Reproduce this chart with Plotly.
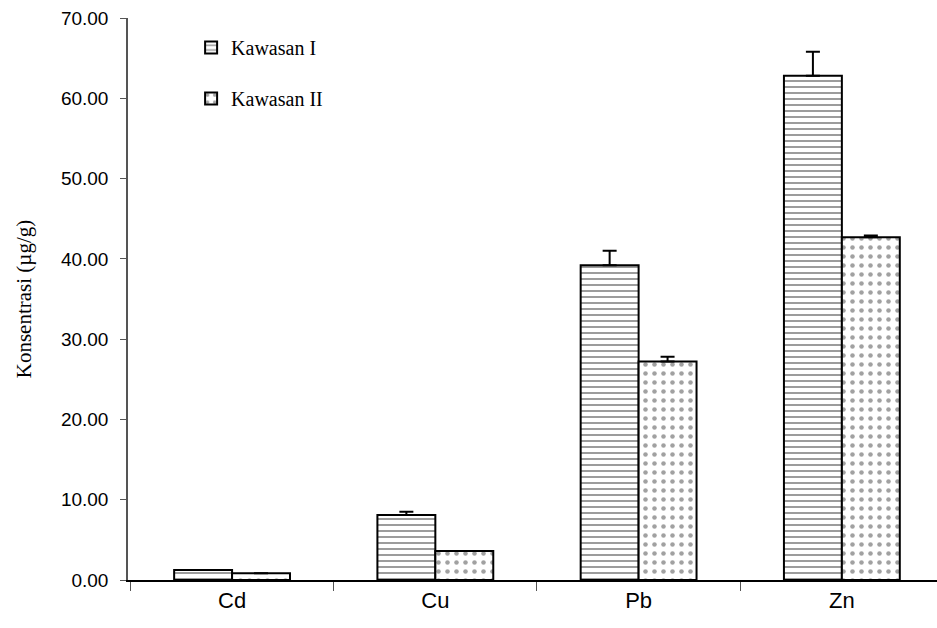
import plotly.graph_objects as go

categories = ["Cd", "Cu", "Pb", "Zn"]
kawasan1 = [1.25, 8.1, 39.2, 62.8]
kawasan1_err = [0.0, 0.4, 1.8, 3.0]
kawasan2 = [0.85, 3.6, 27.2, 42.7]
kawasan2_err = [0.0, 0.0, 0.6, 0.2]
y_ticks = [0, 10, 20, 30, 40, 50, 60, 70]

fig = go.Figure()
fig.add_trace(go.Bar(
    x=categories, y=kawasan1, name="Kawasan I", legendgroup="a",
    marker=dict(color="white", line=dict(color="black", width=2),
                pattern=dict(shape="-", fgcolor="#222222", bgcolor="white",
                             size=6, solidity=0.3, fillmode="overlay")),
    error_y=dict(type="data", symmetric=False, array=kawasan1_err,
                 arrayminus=[0, 0, 0, 0], color="black", thickness=2, width=7),
))
fig.add_trace(go.Bar(
    x=categories, y=kawasan2, name="Kawasan II", legendgroup="b",
    marker=dict(color="white", line=dict(color="black", width=2),
                pattern=dict(shape=".", fgcolor="#444444", bgcolor="white",
                             size=9, solidity=0.2, fillmode="overlay")),
    error_y=dict(type="data", symmetric=False, array=kawasan2_err,
                 arrayminus=[0, 0, 0, 0], color="black", thickness=2, width=7),
))

fig.update_layout(
    width=937, height=628,
    margin=dict(l=128, r=0, t=18, b=48),
    paper_bgcolor="white", plot_bgcolor="white",
    barmode="group", bargap=0.43, bargroupgap=0,
    font=dict(family="Liberation Sans, Arial", color="black"),
    legend=dict(x=0.078, y=0.982, xanchor="left", yanchor="top",
                font=dict(family="Liberation Serif, Times New Roman", size=20),
                tracegroupgap=22, bgcolor="rgba(0,0,0,0)", itemwidth=30),
    showlegend=True,
)
fig.update_xaxes(
    range=[-0.512, 3.468],
    showline=True, linecolor="black", linewidth=1.5,
    ticks="outside", tickson="boundaries", ticklen=9, tickcolor="#555555",
    tickfont=dict(size=22, family="Liberation Sans, Arial"),
    showgrid=False,
)
fig.update_yaxes(
    range=[0, 70], tickvals=y_ticks, tickformat=".2f",
    showline=True, linecolor="#555555", linewidth=1.5,
    ticks="outside", ticklen=6, tickcolor="#555555",
    ticklabelstandoff=8,
    tickfont=dict(size=19, family="Liberation Sans, Arial"),
    showgrid=False, zeroline=False,
    title=dict(text="Konsentrasi (µg/g)",
               font=dict(family="Liberation Serif, Times New Roman", size=21),
               standoff=24),
)

fig.write_html("out.html")
